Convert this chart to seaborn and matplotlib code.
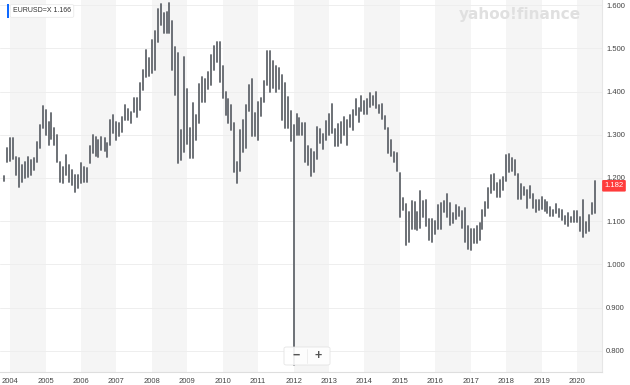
import pandas as pd
import numpy as np
import matplotlib
matplotlib.use("Agg")
import matplotlib.pyplot as plt
import matplotlib.transforms as mtransforms
from matplotlib.patches import Rectangle, FancyBboxPatch
import seaborn as sns

# monthly bars, Nov 2003 .. Jul 2020
months = pd.date_range("2003-11-01", "2020-07-01", freq="MS")

highs = [
    1.205, 1.269,
    1.293, 1.293, 1.249, 1.246, 1.230, 1.237, 1.249, 1.242, 1.246, 1.283, 1.322, 1.367,  # 2004
    1.357, 1.330, 1.350, 1.316, 1.300, 1.237, 1.225, 1.253, 1.230, 1.218, 1.207, 1.207,  # 2005
    1.235, 1.225, 1.223, 1.275, 1.300, 1.295, 1.288, 1.295, 1.293, 1.281, 1.334, 1.346,  # 2006
    1.330, 1.327, 1.341, 1.368, 1.360, 1.353, 1.385, 1.385, 1.420, 1.450, 1.496, 1.477,  # 2007
    1.520, 1.540, 1.590, 1.602, 1.582, 1.584, 1.605, 1.563, 1.503, 1.490, 1.311, 1.480,  # 2008
    1.406, 1.315, 1.373, 1.345, 1.418, 1.434, 1.430, 1.444, 1.484, 1.506, 1.514, 1.514,  # 2009
    1.458, 1.399, 1.382, 1.369, 1.328, 1.237, 1.310, 1.333, 1.369, 1.416, 1.428, 1.350,  # 2010
    1.375, 1.386, 1.425, 1.494, 1.494, 1.470, 1.458, 1.455, 1.438, 1.419, 1.387, 1.355,  # 2011
    1.323, 1.348, 1.338, 1.328, 1.328, 1.274, 1.268, 1.261, 1.317, 1.314, 1.301, 1.331,  # 2012
    1.348, 1.371, 1.313, 1.324, 1.330, 1.342, 1.334, 1.345, 1.357, 1.383, 1.362, 1.389,  # 2013
    1.377, 1.382, 1.396, 1.390, 1.399, 1.368, 1.370, 1.344, 1.316, 1.289, 1.260, 1.257,  # 2014
    1.211, 1.153, 1.139, 1.121, 1.147, 1.144, 1.121, 1.171, 1.146, 1.150, 1.105, 1.105,  # 2015
    1.100, 1.138, 1.142, 1.146, 1.162, 1.142, 1.119, 1.137, 1.132, 1.124, 1.130, 1.088,  # 2016
    1.083, 1.083, 1.090, 1.096, 1.126, 1.144, 1.178, 1.207, 1.209, 1.188, 1.196, 1.202,  # 2017
    1.253, 1.255, 1.247, 1.241, 1.210, 1.185, 1.179, 1.173, 1.181, 1.162, 1.150, 1.148,  # 2018
    1.157, 1.149, 1.145, 1.132, 1.126, 1.141, 1.129, 1.125, 1.111, 1.118, 1.110, 1.124,  # 2019
    1.124, 1.110, 1.149, 1.099, 1.114, 1.142, 1.193,                                     # 2020
]

lows = [
    1.193, 1.237,
    1.240, 1.245, 1.207, 1.179, 1.191, 1.200, 1.202, 1.207, 1.218, 1.237, 1.269, 1.316,  # 2004
    1.300, 1.276, 1.290, 1.276, 1.237, 1.191, 1.188, 1.207, 1.191, 1.184, 1.168, 1.177,  # 2005
    1.188, 1.190, 1.191, 1.235, 1.258, 1.252, 1.249, 1.265, 1.262, 1.249, 1.276, 1.304,  # 2006
    1.288, 1.297, 1.306, 1.334, 1.333, 1.327, 1.352, 1.340, 1.357, 1.403, 1.434, 1.435,  # 2007
    1.443, 1.450, 1.515, 1.554, 1.535, 1.535, 1.535, 1.450, 1.392, 1.235, 1.242, 1.260,  # 2008
    1.278, 1.246, 1.246, 1.289, 1.327, 1.375, 1.376, 1.405, 1.415, 1.449, 1.469, 1.422,  # 2009
    1.386, 1.345, 1.327, 1.312, 1.214, 1.188, 1.216, 1.259, 1.270, 1.355, 1.297, 1.297,  # 2010
    1.287, 1.343, 1.375, 1.415, 1.400, 1.407, 1.400, 1.405, 1.335, 1.315, 1.316, 1.286,  # 2011
    0.768, 1.300, 1.300, 1.300, 1.237, 1.229, 1.204, 1.213, 1.243, 1.280, 1.266, 1.288,  # 2012
    1.300, 1.303, 1.275, 1.275, 1.280, 1.300, 1.276, 1.317, 1.310, 1.345, 1.330, 1.355,  # 2013
    1.348, 1.348, 1.365, 1.368, 1.361, 1.350, 1.337, 1.313, 1.257, 1.250, 1.236, 1.217,  # 2014
    1.110, 1.126, 1.046, 1.052, 1.082, 1.082, 1.080, 1.085, 1.109, 1.090, 1.056, 1.052,  # 2015
    1.071, 1.081, 1.082, 1.122, 1.110, 1.091, 1.095, 1.105, 1.112, 1.085, 1.053, 1.035,  # 2016
    1.034, 1.049, 1.050, 1.057, 1.083, 1.111, 1.131, 1.166, 1.172, 1.157, 1.156, 1.172,  # 2017
    1.192, 1.215, 1.216, 1.206, 1.151, 1.151, 1.161, 1.130, 1.153, 1.130, 1.122, 1.127,  # 2018
    1.129, 1.124, 1.118, 1.111, 1.111, 1.118, 1.110, 1.103, 1.093, 1.088, 1.098, 1.098,  # 2019
    1.099, 1.078, 1.064, 1.073, 1.077, 1.117, 1.118,                                     # 2020
]

years = list(range(2004, 2021))
price_ticks = [0.8, 0.9, 1.0, 1.1, 1.2, 1.3, 1.4, 1.5, 1.6]
last_price = 1.182
quote_text = "EURUSD=X 1.166"

# long form: two rows per month so each month is one vertical line
df = pd.DataFrame({
    "date": list(months) + list(months),
    "price": lows + highs,
})

sns.set_style("white")
plt.rcParams["font.family"] = ["Liberation Sans", "DejaVu Sans"]

fig = plt.figure(figsize=(6.3, 3.85), dpi=100)
ax = fig.add_axes([0, 13 / 385, 602 / 630, 372 / 385])

# alternating year bands
for y in years:
    if y % 2 == 0:
        ax.axvspan(pd.Timestamp(f"{y}-01-01"), pd.Timestamp(f"{y + 1}-01-01"),
                   color="#f5f5f5", lw=0, zorder=0)
for v in price_ticks:
    ax.axhline(v, color="#eeeeee", lw=0.7, zorder=0.5)

sns.lineplot(data=df, x="date", y="price", units="date", estimator=None,
             sort=False, color="#676b71", lw=1.35, legend=False, ax=ax, zorder=2)

px_year = 35.44
days_px = 365.25 / px_year
x0 = pd.Timestamp("2004-01-01") - pd.Timedelta(days=10 * days_px)
x1 = x0 + pd.Timedelta(days=602 * days_px)
ax.set_xlim(x0, x1)
ax.set_ylim(0.7514, 1.6116)

ax.set_xticks([pd.Timestamp(f"{y}-01-01") for y in years])
ax.set_xticklabels([str(y) for y in years])
ax.yaxis.tick_right()
ax.set_yticks(price_ticks)
ax.set_yticklabels([f"{v:.3f}" for v in price_ticks])
ax.tick_params(axis="both", length=0, labelsize=5.5, labelcolor="#444444")
ax.tick_params(axis="x", pad=4)
ax.tick_params(axis="y", pad=3)
ax.set_xlabel("")
ax.set_ylabel("")
for s in ["left", "top"]:
    ax.spines[s].set_visible(False)
ax.spines["bottom"].set_color("#dedede")
ax.spines["right"].set_color("#e6e6e6")
ax.spines["bottom"].set_linewidth(0.8)
ax.spines["right"].set_linewidth(0.8)

# last price tag
trans = mtransforms.blended_transform_factory(ax.transAxes, ax.transData)
ax.text(1.004, last_price, f"{last_price:.3f}", transform=trans, ha="left", va="center",
        fontsize=5.5, color="white", zorder=5, clip_on=False,
        bbox=dict(boxstyle="round,pad=0.3,rounding_size=0.15", fc="#ff3b3b", ec="none"))

# watermark
fig.text(520 / 630, 1 - 14 / 385, "yahoo!finance", fontsize=11, fontweight="bold",
         family="DejaVu Sans", color="#e0e0e0", ha="center", va="center")

# quote label
fig.text(13 / 630, 1 - 11 / 385, quote_text, fontsize=5, color="#333333",
         ha="left", va="center",
         bbox=dict(boxstyle="round,pad=0.4,rounding_size=0.2", fc="white", ec="#e6e6e6", lw=0.5))
fig.add_artist(Rectangle((7 / 630, 1 - 17.5 / 385), 2 / 630, 13 / 385,
                         transform=fig.transFigure, color="#0f69ff", lw=0))

# zoom buttons
fig.add_artist(FancyBboxPatch((284 / 630, 1 - 365 / 385), 46 / 630, 18 / 385,
                              boxstyle="round,pad=0,rounding_size=0.004",
                              transform=fig.transFigure, fc="white", ec="#e2e2e2",
                              lw=0.6, alpha=0.9, zorder=6))
fig.add_artist(plt.Line2D([307 / 630, 307 / 630], [1 - 363 / 385, 1 - 349 / 385],
                          transform=fig.transFigure, color="#ececec", lw=0.6, zorder=7))
fig.text(296 / 630, 1 - 356 / 385, "\u2212", fontsize=9, fontweight="bold",
         color="#555555", ha="center", va="center", zorder=8)
fig.text(318 / 630, 1 - 356 / 385, "+", fontsize=9, fontweight="bold",
         color="#555555", ha="center", va="center", zorder=8)

fig.savefig("out.png", dpi=100)
